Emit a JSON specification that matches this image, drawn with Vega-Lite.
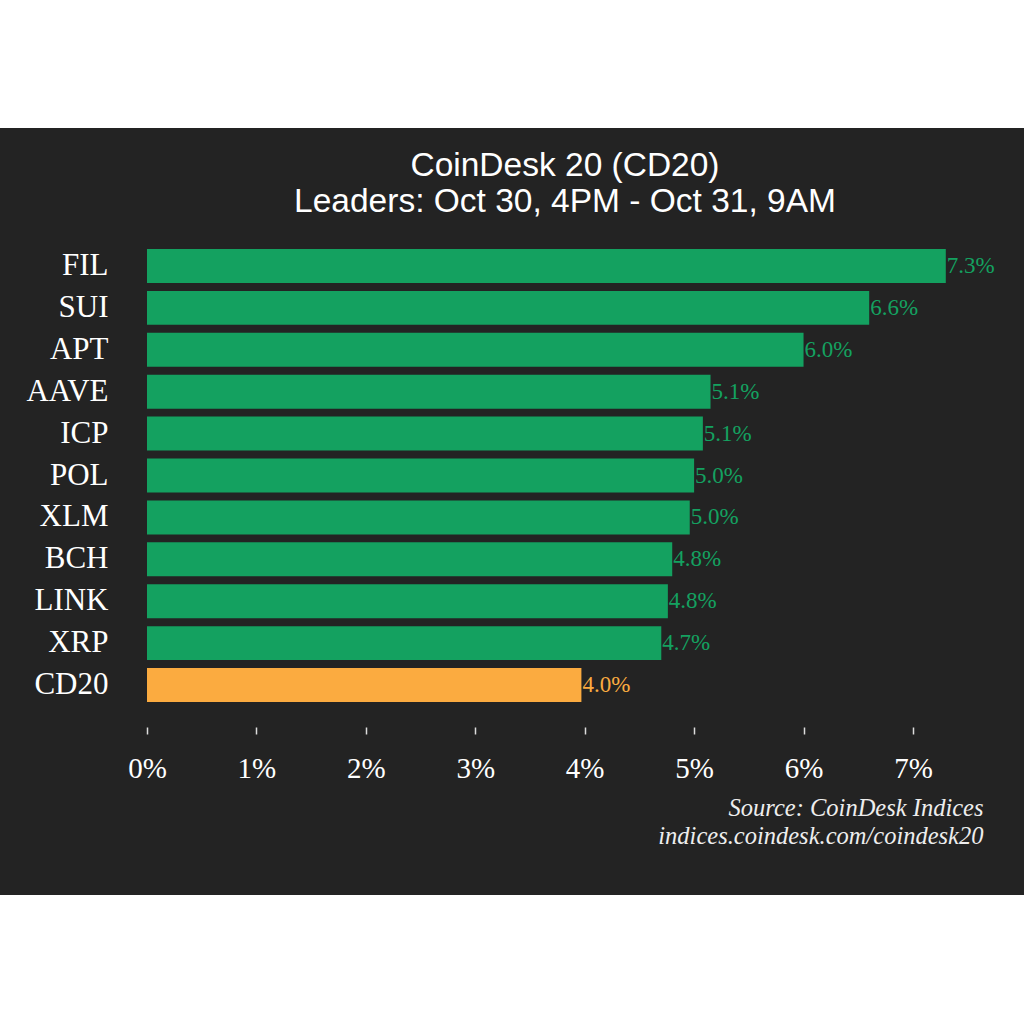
{
  "$schema": "https://vega.github.io/schema/vega-lite/v6.json",
  "width": 1024,
  "height": 767,
  "autosize": {"type": "none"},
  "padding": {"top": 128, "left": 0, "right": 0, "bottom": 129},
  "background": "#ffffff",
  "config": {
    "view": {"fill": "#232323", "stroke": null}
  },
  "title": {
    "text": ["CoinDesk 20 (CD20)", "Leaders: Oct 30, 4PM - Oct 31, 9AM"],
    "font": "Liberation Sans",
    "fontSize": 33.5,
    "fontWeight": "normal",
    "color": "#ffffff",
    "lineHeight": 36,
    "anchor": "middle",
    "dx": 53,
    "offset": -91
  },
  "data": {
    "values": [
      {"name": "FIL", "value": 7.3, "label": "7.3%", "group": "leader"},
      {"name": "SUI", "value": 6.6, "label": "6.6%", "group": "leader"},
      {"name": "APT", "value": 6.0, "label": "6.0%", "group": "leader"},
      {"name": "AAVE", "value": 5.15, "label": "5.1%", "group": "leader"},
      {"name": "ICP", "value": 5.08, "label": "5.1%", "group": "leader"},
      {"name": "POL", "value": 5.0, "label": "5.0%", "group": "leader"},
      {"name": "XLM", "value": 4.96, "label": "5.0%", "group": "leader"},
      {"name": "BCH", "value": 4.8, "label": "4.8%", "group": "leader"},
      {"name": "LINK", "value": 4.76, "label": "4.8%", "group": "leader"},
      {"name": "XRP", "value": 4.7, "label": "4.7%", "group": "leader"},
      {"name": "CD20", "value": 3.97, "label": "4.0%", "group": "index"}
    ]
  },
  "encoding": {
    "y": {
      "field": "name",
      "type": "nominal",
      "sort": null,
      "scale": {"range": [121, 574], "paddingInner": 0.19, "paddingOuter": 0},
      "axis": {
        "title": null,
        "orient": "left",
        "offset": -147,
        "domain": false,
        "ticks": false,
        "labelPadding": 39,
        "labelFont": "Liberation Serif",
        "labelFontSize": 31,
        "labelColor": "#ffffff"
      }
    },
    "x": {
      "field": "value",
      "type": "quantitative",
      "scale": {"domain": [0, 7.64], "range": [147, 983], "nice": false, "zero": true},
      "axis": {
        "orient": "bottom",
        "offset": -168,
        "values": [0, 1, 2, 3, 4, 5, 6, 7],
        "labelExpr": "datum.value + '%'",
        "labelFlush": false,
        "labelOverlap": false,
        "domain": false,
        "grid": false,
        "ticks": true,
        "tickSize": 7,
        "tickColor": "#dddddd",
        "tickWidth": 1.5,
        "labelPadding": 20,
        "labelFont": "Liberation Serif",
        "labelFontSize": 29,
        "labelColor": "#ffffff",
        "title": ["Source: CoinDesk Indices", "indices.coindesk.com/coindesk20"],
        "titleAnchor": "end",
        "titleAlign": "right",
        "titleFont": "Liberation Serif",
        "titleFontStyle": "italic",
        "titleFontWeight": "normal",
        "titleFontSize": 24.5,
        "titleLineHeight": 28,
        "titleColor": "#eeeeee",
        "titlePadding": 13
      }
    }
  },
  "layer": [
    {
      "mark": {"type": "bar"},
      "encoding": {
        "color": {
          "field": "group",
          "type": "nominal",
          "scale": {"domain": ["leader", "index"], "range": ["#14a160", "#fbab40"]},
          "legend": null
        }
      }
    },
    {
      "mark": {"type": "text", "align": "left", "baseline": "middle", "dx": 1, "font": "Liberation Serif", "fontSize": 23},
      "encoding": {
        "text": {"field": "label"},
        "color": {
          "field": "group",
          "type": "nominal",
          "scale": {"domain": ["leader", "index"], "range": ["#2b9e68", "#e3a047"]},
          "legend": null
        }
      }
    }
  ]
}
